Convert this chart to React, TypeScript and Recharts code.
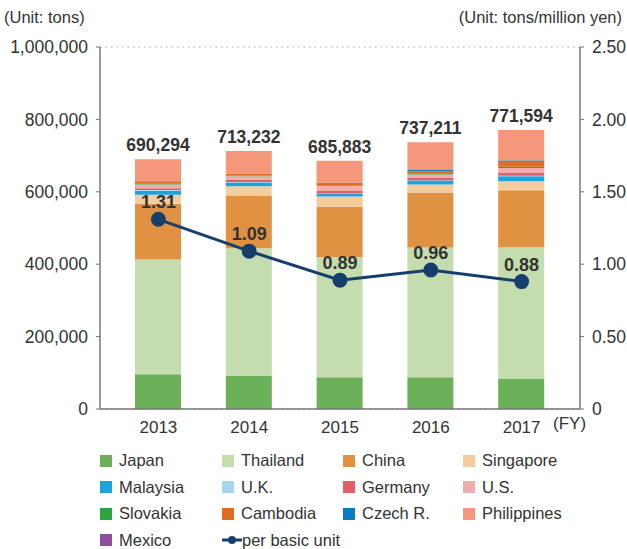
import { ComposedChart, Bar, Line, XAxis, YAxis, CartesianGrid, LabelList } from 'recharts'

const years = ['2013', '2014', '2015', '2016', '2017']
const japan = [96000, 91000, 88000, 88000, 83000]
const thailand = [317000, 353000, 331000, 358000, 364000]
const china = [154000, 146000, 140000, 152000, 157000]
const singapore = [25000, 25000, 28000, 22000, 25000]
const malaysia = [11000, 11000, 8000, 11000, 14000]
const uk = [2000, 1000, 1000, 1000, 1000]
const germany = [5000, 6000, 6000, 6000, 8000]
const us = [10000, 10000, 14000, 10000, 14000]
const slovakia = [2000, 2000, 1000, 3000, 3000]
const cambodia = [6000, 4000, 7000, 6000, 17000]
const czech = [1000, 1000, 1000, 3000, 1000]
const philippines = [61000, 63000, 61000, 77000, 84000]
const mexico = [0, 0, 0, 0, 0]
const totals = [690294, 713232, 685883, 737211, 771594]
const perUnit = [1.31, 1.09, 0.89, 0.96, 0.88]

const leftTicks = [0, 200000, 400000, 600000, 800000, 1000000]
const rightTicks = [0, 0.5, 1, 1.5, 2, 2.5]

// stack order bottom -> top
const series = [
  { key: 'japan', name: 'Japan', color: '#6db05a', values: japan },
  { key: 'thailand', name: 'Thailand', color: '#c4dcae', values: thailand },
  { key: 'china', name: 'China', color: '#e09142', values: china },
  { key: 'singapore', name: 'Singapore', color: '#f4cc9e', values: singapore },
  { key: 'malaysia', name: 'Malaysia', color: '#1ea2da', values: malaysia },
  { key: 'uk', name: 'U.K.', color: '#a6d6f0', values: uk },
  { key: 'germany', name: 'Germany', color: '#e05f6c', values: germany },
  { key: 'us', name: 'U.S.', color: '#efadac', values: us },
  { key: 'slovakia', name: 'Slovakia', color: '#2ea440', values: slovakia },
  { key: 'cambodia', name: 'Cambodia', color: '#e06d1e', values: cambodia },
  { key: 'czech', name: 'Czech R.', color: '#0a7cc1', values: czech },
  { key: 'philippines', name: 'Philippines', color: '#f5977a', values: philippines },
  { key: 'mexico', name: 'Mexico', color: '#8e4f9e', values: mexico },
]

const lineColor = '#173f6d'
const font = '"Liberation Sans", Arial, sans-serif'

const data = years.map((y, i) => {
  const row: Record<string, number | string> = { year: y, total: totals[i], unit: perUnit[i] }
  series.forEach(s => { row[s.key] = s.values[i] })
  return row
})

// legend layout order (row by row)
const legendOrder = [
  'japan', 'thailand', 'china', 'singapore',
  'malaysia', 'uk', 'germany', 'us',
  'slovakia', 'cambodia', 'czech', 'philippines',
  'mexico', 'line',
]
const colX = [100, 222, 343, 463]

export default function App() {
  return (
    <div style={{ position: 'absolute', left: 0, top: 0, width: 627, height: 549, fontFamily: font, color: '#333', background: '#fff' }}>
      <div style={{ position: 'absolute', left: 4, top: 8, fontSize: 16.5 }}>(Unit: tons)</div>
      <div style={{ position: 'absolute', right: 5, top: 8, fontSize: 16.5 }}>(Unit: tons/million yen)</div>
      <div style={{ position: 'absolute', left: 553, top: 414, fontSize: 17 }}>(FY)</div>

      <ComposedChart
        width={627}
        height={440}
        data={data}
        margin={{ top: 47, right: 0, left: 0, bottom: 0 }}
        style={{ fontFamily: font }}
      >
        <CartesianGrid vertical={false} stroke="#aaa" strokeDasharray="1.5 4" />
        <XAxis
          dataKey="year"
          tickLine={false}
          axisLine={{ stroke: '#777', strokeWidth: 1.5 }}
          tick={{ fill: '#333', fontSize: 17 }}
          padding={{ left: 13, right: 13 }}
          height={31}
          tickMargin={6}
        />
        <YAxis
          yAxisId="left"
          width={100}
          domain={[0, 1000000]}
          ticks={leftTicks}
          tickFormatter={(v: number) => v.toLocaleString('en-US')}
          axisLine={{ stroke: '#777', strokeWidth: 1.5 }}
          tickLine={{ stroke: '#777' }}
          tickSize={4}
          tick={{ fill: '#333', fontSize: 17.5 }}
          tickMargin={8}
        />
        <YAxis
          yAxisId="right"
          orientation="right"
          width={47}
          domain={[0, 2.5]}
          ticks={rightTicks}
          tickFormatter={(v: number) => (v === 0 ? '0' : v.toFixed(2))}
          axisLine={{ stroke: '#777', strokeWidth: 1.5 }}
          tickLine={{ stroke: '#777' }}
          tickSize={4}
          tick={{ fill: '#333', fontSize: 17.5, textAnchor: 'start' }}
          tickMargin={8}
        />
        {series.map(s => (
          <Bar
            key={s.key}
            yAxisId="left"
            dataKey={s.key}
            name={s.name}
            stackId="a"
            fill={s.color}
            barSize={46}
            isAnimationActive={false}
          >
            {s.key === 'philippines' && (
              <LabelList
                dataKey="total"
                position="top"
                offset={8}
                formatter={(v: number) => Number(v).toLocaleString('en-US')}
                style={{ fill: '#333', fontSize: 17.5, fontWeight: 'bold' }}
              />
            )}
          </Bar>
        ))}
        <Line
          yAxisId="right"
          dataKey="unit"
          name="per basic unit"
          stroke={lineColor}
          strokeWidth={3}
          dot={{ r: 6, fill: lineColor, stroke: lineColor }}
          isAnimationActive={false}
        >
          <LabelList
            dataKey="unit"
            position="top"
            offset={11}
            formatter={(v: number) => Number(v).toFixed(2)}
            style={{ fill: '#333', fontSize: 18, fontWeight: 'bold' }}
          />
        </Line>
      </ComposedChart>

      {legendOrder.map((k, i) => {
        const row = Math.floor(i / 4)
        const col = i % 4
        const top = 451 + row * 26.5
        const left = colX[col]
        if (k === 'line') {
          return (
            <div key={k} style={{ position: 'absolute', left, top, height: 19, fontSize: 16.5, display: 'flex', alignItems: 'center' }}>
              <svg width={20} height={12}>
                <line x1={0} y1={6} x2={20} y2={6} stroke={lineColor} strokeWidth={3} />
                <circle cx={10} cy={6} r={4} fill={lineColor} />
              </svg>
              <span>per basic unit</span>
            </div>
          )
        }
        const s = series.find(x => x.key === k)!
        return (
          <div key={k} style={{ position: 'absolute', left, top, height: 19, fontSize: 16.5, display: 'flex', alignItems: 'center' }}>
            <div style={{ width: 12, height: 12, background: s.color, marginRight: 7 }} />
            <span>{s.name}</span>
          </div>
        )
      })}
    </div>
  )
}
